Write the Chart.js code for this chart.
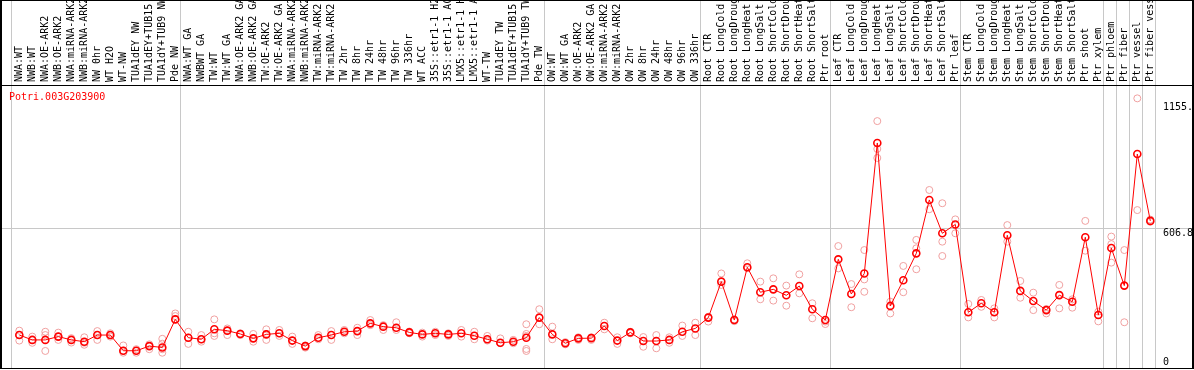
<!DOCTYPE html>
<html><head><meta charset="utf-8">
<script src="https://cdn.jsdelivr.net/npm/chart.js@4.4.1/dist/chart.umd.min.js"></script>
<style>html,body{margin:0;padding:0;background:#fff;overflow:hidden}#wrap{width:1194px;height:370px}canvas{display:block}</style>
</head><body><div id="wrap"><canvas id="c" width="1194" height="370"></canvas></div>
<script>
const geneName = 'Potri.003G203900';
const categories = [
 'NWA:WT','NWB:WT','NWA:OE-ARK2','NWB:OE-ARK2','NWA:miRNA-ARK2','NWB:miRNA-ARK2','NW 0hr','WT H2O','WT-NW','TUA1dEY NW','TUA1dEY+TUB15 NW','TUA1dY+TUB9 NW','Pde NW',
 'NWA:WT GA','NWBWT GA','TW:WT','TW:WT GA','NWA:OE-ARK2 GA','NWB:OE-ARK2 GA','TW:OE-ARK2','TW:OE-ARK2 GA','NWA:miRNA-ARK2 GA','NWB:miRNA-ARK2 GA','TW:miRNA-ARK2','TW:miRNA-ARK2 GA','TW 2hr','TW 8hr','TW 24hr','TW 48hr','TW 96hr','TW 336hr','WT ACC','35S::etr1-1 H2O','35S::etr1-1 ACC','LMX5::etr1-1 H2O','LMX5::etr1-1 ACC','WT-TW','TUA1dEY TW','TUA1dEY+TUB15 TW','TUA1dY+TUB9 TW','Pde TW',
 'OW:WT','OW:WT GA','OW:OE-ARK2','OW:OE-ARK2 GA','OW:miRNA-ARK2','OW:miRNA-ARK2 GA','OW 2hr','OW 8hr','OW 24hr','OW 48hr','OW 96hr','OW 336hr',
 'Root CTR','Root LongCold','Root LongDrought','Root LongHeat','Root LongSalt','Root ShortCold','Root ShortDrought','Root ShortHeat','Root ShortSalt','Ptr root',
 'Leaf CTR','Leaf LongCold','Leaf LongDrought','Leaf LongHeat','Leaf LongSalt','Leaf ShortCold','Leaf ShortDrought','Leaf ShortHeat','Leaf ShortSalt','Ptr leaf',
 'Stem CTR','Stem LongCold','Stem LongDrought','Stem LongHeat','Stem LongSalt','Stem ShortCold','Stem ShortDrought','Stem ShortHeat','Stem ShortSalt','Ptr shoot','Ptr xylem',
 'Ptr phloem','Ptr fiber','Ptr vessel','Ptr fiber vessel'
];
const meanValues = [
 122,100,100,115,100,92,122,122,51,51,72,66,193,
 110,103,148,142,127,107,125,130,97,72,110,122,137,140,175,160,155,134,125,130,125,130,119,103,87,92,110,201,
 125,85,107,108,163,97,134,95,95,100,137,152,
 201,364,190,429,316,329,302,344,239,190,
 465,308,401,992,254,370,492,734,583,623,
 225,266,225,574,322,276,235,303,273,565,213,
 516,346,942,639
];
const replicateValues = [
 [142,122,97],[115,100,87],[137,122,50],[133,115,100],[108,100,88],[112,87,78],[140,122,100],[130,122,115],[75,51,42],[58,51,42],[80,72,58],[105,83,58,42],[220,208,193],
 [137,110,82],[122,103,92],[193,130,118],[152,142,122],[130,127,122],[127,107,92],[148,127,100],[145,130,118],[115,97,82],[75,65],[122,103],[140,100],[145,130],[155,122],[190,167],[167,145],[180,145],[138,130],[133,115],[137,122],[130,118],[145,115],[137,103],[118,97],[107,85],[100,85],[171,127,118,59,50],[239,171],
 [160,103],[90,80],[112,100],[112,100],[178,148],[112,82],[137,130],[113,69],[122,62],[112,87],[165,118],[178,122],
 [183,205],[401,349],[193,185],[447,425],[364,284],[379,278],[346,255],[397,311],[266,198],[183,172],
 [525,424],[353,248],[507,374,318],[1091,965,924],[273,220],[435,316],[553,515,420],[779,692],[719,545,480],[646,583],
 [263,202],[281,250],[243,202],[620,545],[367,291],[314,235],[220,240],[349,243],[284,246],[639,504],[228,184],
 [568,534,450],[507,180],[1194,688],[645,635]
];
const groupStarts = [0,13,41,53,63,73,84,85,86,87,88];
const yTickValues = [0, 606.8, 1155];
const yTickLabels = ['0','606.8','1155.'];

const FONT = "'DejaVu Sans Mono','Liberation Mono',monospace";
const xMin = -1.408, xMax = xMin + 1192/13;
const yMin = -27.17, yMax = 1254.5;
const GRID = '#c8c8c8';

const meanPoints = meanValues.map((v,i)=>({x:i,y:v}));
const replicatePoints = [];
replicateValues.forEach((arr,i)=>arr.forEach(v=>replicatePoints.push({x:i,y:v})));

function zeroPad(s){ s.paddingLeft = 0; s.paddingRight = 0; s.paddingTop = 0; s.paddingBottom = 0; }

const framePlugin = {
  id:'frame',
  beforeDraw(chart){
    const c = chart.ctx, xs = chart.scales.x, top = chart.chartArea.top;
    c.save(); c.strokeStyle = GRID; c.lineWidth = 1;
    groupStarts.forEach(k=>{
      const px = Math.round(xs.getPixelForValue(k-0.638)-0.5)+0.5;
      c.beginPath(); c.moveTo(px,0); c.lineTo(px,top); c.stroke();
    });
    c.restore();
  },
  afterDraw(chart){
    const c = chart.ctx, a = chart.chartArea;
    c.save();
    c.fillStyle = '#000';
    c.fillRect(0,0,1194,1);
    c.fillRect(0,0,2,369);
    c.fillRect(1192,0,2,369);
    c.fillRect(0,368,1194,1);
    c.fillRect(0,Math.round(a.top),1194,1);
    c.fillStyle = '#ff0000';
    c.font = "10px " + FONT;
    c.textBaseline = 'top';
    c.textAlign = 'left';
    c.fillText(geneName, 9, 92);
    c.restore();
  }
};

new Chart(document.getElementById('c'), {
  type:'scatter',
  data:{datasets:[
    {label:'mean', data:meanPoints, showLine:true, borderColor:'#ff0000', borderWidth:1,
     pointRadius:3.5, pointBorderWidth:1.6, pointBorderColor:'#ff0000', pointBackgroundColor:'rgba(0,0,0,0)', order:0, xAxisID:'x', yAxisID:'y'},
    {label:'replicates', data:replicatePoints, showLine:false,
     pointRadius:3.5, pointBorderWidth:1, pointBorderColor:'#f0a0a0', pointBackgroundColor:'rgba(0,0,0,0)', order:1, xAxisID:'x', yAxisID:'y'}
  ]},
  options:{
    responsive:false, animation:false, devicePixelRatio:1,
    layout:{autoPadding:false, padding:{left:1,right:1,top:0,bottom:2}},
    plugins:{legend:{display:false}, tooltip:{enabled:false}, title:{display:false}},
    scales:{
      x:{type:'linear', position:'bottom', min:xMin, max:xMax,
         afterBuildTicks:s=>{ s.ticks = groupStarts.map(k=>({value:k-0.638})); },
         ticks:{display:false}, grid:{color:GRID, lineWidth:1, drawTicks:false}, border:{display:false},
         afterFit:s=>{ s.height = 0; zeroPad(s); }},
      xTop:{type:'linear', position:'top', min:xMin, max:xMax,
         afterBuildTicks:s=>{ s.ticks = categories.map((c,i)=>({value:i})); },
         ticks:{autoSkip:false, minRotation:90, maxRotation:90, padding:3, labelOffset:12, color:'#000',
                font:{family:FONT, size:10, lineHeight:1.2}, callback:(v,i)=>categories[i]},
         grid:{display:false, drawTicks:false}, border:{display:false},
         afterFit:s=>{ s.height = 85; zeroPad(s); }},
      y:{type:'linear', position:'right', min:yMin, max:yMax,
         afterBuildTicks:s=>{ s.ticks = yTickValues.map(v=>({value:v})); },
         ticks:{autoSkip:false, mirror:true, crossAlign:'far', padding:0, color:'#000',
                font:{family:FONT, size:10, lineHeight:1},
                callback:(v,i)=> i===1 ? ['', yTickLabels[i]] : yTickLabels[i]},
         grid:{color:ctx=> (ctx.tick && ctx.tick.value===606.8) ? GRID : 'rgba(0,0,0,0)', drawTicks:false},
         border:{display:false},
         afterFit:s=>{ s.width = 0; zeroPad(s); }}
    }
  },
  plugins:[framePlugin]
});
</script></body></html>
